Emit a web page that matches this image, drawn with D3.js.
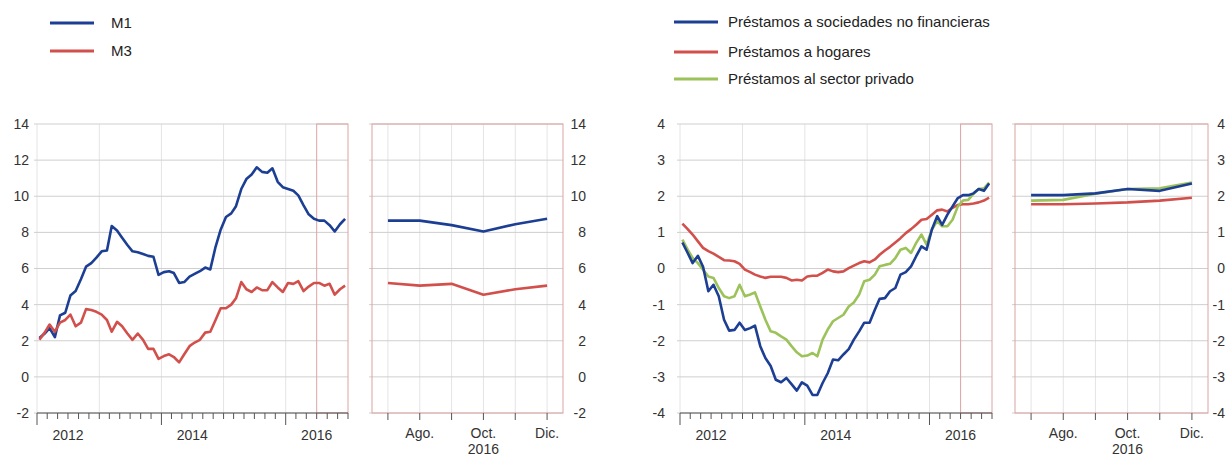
<!DOCTYPE html>
<html>
<head>
<meta charset="utf-8">
<script src="https://cdn.jsdelivr.net/npm/d3@7"></script>
<style>
  body { margin: 0; background: #fff; }
  svg { display: block; font-family: "Liberation Sans", Arial, sans-serif; }
</style>
</head>
<body>
<svg id="chart" width="1226" height="456"></svg>
<script>
// monthly data, Jan 2012 - Dec 2016
const m1 = [2.15, 2.4, 2.7, 2.2, 3.4, 3.55, 4.5, 4.75, 5.4, 6.1, 6.3, 6.6,
  6.95, 7.0, 8.35, 8.1, 7.7, 7.3, 6.95, 6.9, 6.8, 6.7, 6.65, 5.65,
  5.8, 5.85, 5.75, 5.2, 5.25, 5.55, 5.7, 5.85, 6.05, 5.95, 7.2, 8.15,
  8.85, 9.05, 9.45, 10.4, 10.95, 11.2, 11.6, 11.35, 11.3, 11.55, 10.8, 10.5,
  10.4, 10.3, 10.05, 9.5, 9.0, 8.75, 8.65, 8.65, 8.4, 8.05, 8.45, 8.75]
const m3 = [2.05, 2.45, 2.9, 2.5, 3.0, 3.15, 3.45, 2.8, 3.0, 3.75, 3.7, 3.6,
  3.45, 3.15, 2.5, 3.05, 2.8, 2.4, 2.05, 2.4, 2.05, 1.55, 1.55, 1.0,
  1.15, 1.25, 1.1, 0.8, 1.25, 1.7, 1.9, 2.05, 2.45, 2.5, 3.15, 3.8,
  3.8, 4.0, 4.35, 5.25, 4.85, 4.7, 4.95, 4.8, 4.8, 5.25, 4.95, 4.7,
  5.2, 5.15, 5.3, 4.75, 5.0, 5.2, 5.2, 5.05, 5.15, 4.55, 4.85, 5.05]

const sociedades = [0.72, 0.43, 0.15, 0.35, 0.05, -0.63, -0.45, -0.77, -1.42, -1.72, -1.7, -1.5,
  -1.7, -1.65, -1.58, -2.15, -2.48, -2.7, -3.08, -3.15, -3.03, -3.2, -3.38, -3.15,
  -3.24, -3.5, -3.5, -3.17, -2.9, -2.52, -2.54, -2.38, -2.23, -1.97, -1.74, -1.5,
  -1.5, -1.14, -0.84, -0.82, -0.63, -0.54, -0.17, -0.1, 0.06, 0.34, 0.61, 0.52,
  1.08, 1.45, 1.21, 1.49, 1.72, 1.95, 2.03, 2.03, 2.08, 2.2, 2.15, 2.35]
const hogares = [1.24, 1.09, 0.94, 0.75, 0.57, 0.48, 0.41, 0.32, 0.23, 0.22, 0.2, 0.13,
  -0.03, -0.1, -0.17, -0.22, -0.26, -0.23, -0.23, -0.23, -0.26, -0.33, -0.31, -0.33,
  -0.22, -0.2, -0.2, -0.12, -0.03, -0.08, -0.1, -0.08, 0.01, 0.08, 0.15, 0.2,
  0.17, 0.25, 0.38, 0.5, 0.6, 0.72, 0.84, 0.98, 1.09, 1.21, 1.35, 1.37,
  1.49, 1.61, 1.63, 1.58, 1.68, 1.76, 1.78, 1.78, 1.8, 1.83, 1.88, 1.96]
const privado = [0.8, 0.52, 0.29, 0.15, -0.03, -0.22, -0.26, -0.54, -0.77, -0.82, -0.77, -0.45,
  -0.77, -0.72, -0.66, -1.05, -1.42, -1.74, -1.78, -1.88, -1.97, -2.15, -2.32, -2.43,
  -2.41, -2.34, -2.43, -1.97, -1.69, -1.46, -1.37, -1.28, -1.05, -0.94, -0.72, -0.35,
  -0.31, -0.17, 0.06, 0.1, 0.13, 0.29, 0.52, 0.57, 0.43, 0.71, 0.94, 0.66,
  1.08, 1.31, 1.17, 1.17, 1.35, 1.72, 1.88, 1.9, 2.07, 2.2, 2.22, 2.38]

const months = d3.timeMonth.range(new Date(2012, 0, 1), new Date(2017, 0, 1))
const yearLabels = ["2012", "2014", "2016"]
const insetMonths = ["Jul.", "Ago.", "Sep.", "Oct.", "Nov.", "Dic."]
const insetLabels = ["", "Ago.", "", "Oct.", "", "Dic."]
const insetYear = "2016"

const leftSeries = [
  { name: "M1", values: m1, color: "#1c3f94" },
  { name: "M3", values: m3, color: "#d2504c" }
]
const rightSeries = [
  { name: "Préstamos a sociedades no financieras", values: sociedades, color: "#1c3f94" },
  { name: "Préstamos a hogares", values: hogares, color: "#d2504c" },
  { name: "Préstamos al sector privado", values: privado, color: "#9cc25a" }
]

const svg = d3.select("#chart")
const plotTop = 124, plotBottom = 413
const gridH = "#cfcfcf", gridV = "#e4e4e4", frameRed = "#dca4a4", axisCol = "#555"

drawPanel({
  series: leftSeries, yDomain: [-2, 14], yStep: 2,
  mainX: [37, 348], insetX: [372, 563], leftLabelX: 29, rightLabelX: 586,
  legendX: 50, textX: 61, legendY: [23, 51], drawOrder: [0, 1]
})
drawPanel({
  series: rightSeries, yDomain: [-4, 4], yStep: 1,
  mainX: [680, 992], insetX: [1015, 1208], leftLabelX: 665, rightLabelX: 1225,
  legendX: 674, textX: 54, legendY: [22, 52, 79], drawOrder: [1, 2, 0]
})

function drawPanel(cfg) {
  const g = svg.append("g")
  const y = d3.scaleLinear().domain(cfg.yDomain).range([plotBottom, plotTop])
  const yTicks = d3.range(cfg.yDomain[0], cfg.yDomain[1] + 0.001, cfg.yStep)

  const x = d3.scaleTime()
    .domain([new Date(2012, 0, 1), new Date(2017, 0, 1)])
    .range(cfg.mainX)
  const mid = d => d3.timeDay.offset(d, 14)

  // main panel grid
  g.append("g").selectAll("line")
    .data(d3.timeYear.range(new Date(2013, 0, 1), new Date(2017, 0, 1)))
    .enter().append("line")
    .attr("x1", d => x(d)).attr("x2", d => x(d))
    .attr("y1", plotTop).attr("y2", plotBottom)
    .attr("stroke", gridV)
  g.append("line")
    .attr("x1", cfg.mainX[0]).attr("x2", cfg.mainX[0])
    .attr("y1", plotTop).attr("y2", plotBottom).attr("stroke", gridV)
  g.append("g").selectAll("line")
    .data(yTicks)
    .enter().append("line")
    .attr("x1", cfg.mainX[0] - 3).attr("x2", cfg.mainX[1])
    .attr("y1", d => y(d)).attr("y2", d => y(d))
    .attr("stroke", gridH)

  // highlighted last six months
  const hx = x(new Date(2016, 6, 1))
  g.append("rect")
    .attr("x", hx).attr("y", plotTop)
    .attr("width", cfg.mainX[1] - hx).attr("height", plotBottom - plotTop)
    .attr("fill", "none").attr("stroke", frameRed)

  // left axis labels
  g.append("g").selectAll("text")
    .data(yTicks)
    .enter().append("text")
    .attr("x", cfg.leftLabelX).attr("y", d => y(d))
    .attr("dy", "0.35em").attr("text-anchor", "end")
    .style("font-size", "14px").attr("fill", "#333")
    .text(d => d)

  // bottom time axis
  g.append("line")
    .attr("x1", cfg.mainX[0]).attr("x2", cfg.mainX[1])
    .attr("y1", plotBottom).attr("y2", plotBottom).attr("stroke", axisCol)
  g.append("g").selectAll("line")
    .data(d3.timeMonth.every(2).range(new Date(2012, 0, 1), new Date(2017, 0, 2)))
    .enter().append("line")
    .attr("x1", d => x(d)).attr("x2", d => x(d))
    .attr("y1", plotBottom)
    .attr("y2", d => (d.getMonth() === 0 && d.getFullYear() % 2 === 0) ? plotBottom + 12 : plotBottom + 6)
    .attr("stroke", axisCol)
  g.append("g").selectAll("text")
    .data(yearLabels)
    .enter().append("text")
    .attr("x", d => x(new Date(+d, 6, 1)))
    .attr("y", 440).attr("text-anchor", "middle")
    .style("font-size", "14px").attr("fill", "#333")
    .text(d => d)

  // series lines
  const line = d3.line()
    .x((d, i) => x(mid(months[i])))
    .y(d => y(d))
  g.append("g").selectAll("path")
    .data(cfg.drawOrder.map(i => cfg.series[i]))
    .enter().append("path")
    .attr("d", d => line(d.values))
    .attr("fill", "none").attr("stroke", d => d.color)
    .attr("stroke-width", 2.6).attr("stroke-linejoin", "round")

  // inset panel: last six months
  const xi = d3.scalePoint().domain(insetMonths).range(cfg.insetX).padding(0.5)
  const ig = g.append("g")
  ig.append("g").selectAll("line")
    .data(insetMonths)
    .enter().append("line")
    .attr("x1", d => xi(d)).attr("x2", d => xi(d))
    .attr("y1", plotTop).attr("y2", plotBottom).attr("stroke", gridV)
  ig.append("g").selectAll("line")
    .data(yTicks)
    .enter().append("line")
    .attr("x1", cfg.insetX[0] - 3).attr("x2", cfg.insetX[1])
    .attr("y1", d => y(d)).attr("y2", d => y(d))
    .attr("stroke", gridH)
  ig.append("rect")
    .attr("x", cfg.insetX[0]).attr("y", plotTop)
    .attr("width", cfg.insetX[1] - cfg.insetX[0]).attr("height", plotBottom - plotTop)
    .attr("fill", "none").attr("stroke", frameRed)
  ig.append("g").selectAll("line")
    .data(insetMonths)
    .enter().append("line")
    .attr("x1", d => xi(d)).attr("x2", d => xi(d))
    .attr("y1", plotBottom).attr("y2", plotBottom + 7).attr("stroke", axisCol)
  ig.append("g").selectAll("text")
    .data(insetMonths)
    .enter().append("text")
    .attr("x", d => xi(d)).attr("y", 438)
    .attr("text-anchor", "middle")
    .style("font-size", "14px").attr("fill", "#333")
    .text((d, i) => insetLabels[i])
  ig.append("text")
    .attr("x", xi(insetMonths[3])).attr("y", 454)
    .attr("text-anchor", "middle")
    .style("font-size", "14px").attr("fill", "#333")
    .text(insetYear)
  ig.append("g").selectAll("text")
    .data(yTicks)
    .enter().append("text")
    .attr("x", cfg.rightLabelX).attr("y", d => y(d))
    .attr("dy", "0.35em").attr("text-anchor", "end")
    .style("font-size", "14px").attr("fill", "#333")
    .text(d => d)

  const iline = d3.line()
    .x((d, i) => xi(insetMonths[i]))
    .y(d => y(d))
  ig.append("g").selectAll("path")
    .data(cfg.drawOrder.map(i => cfg.series[i]))
    .enter().append("path")
    .attr("d", d => iline(d.values.slice(-6)))
    .attr("fill", "none").attr("stroke", d => d.color)
    .attr("stroke-width", 2.6).attr("stroke-linejoin", "round")

  // legend
  const lg = g.append("g").selectAll("g")
    .data(cfg.series)
    .enter().append("g")
    .attr("transform", (d, i) => `translate(${cfg.legendX},${cfg.legendY[i]})`)
  lg.append("line")
    .attr("x1", 0).attr("x2", 44)
    .attr("stroke", d => d.color).attr("stroke-width", 3)
  lg.append("text")
    .attr("x", cfg.textX).attr("dy", "0.35em")
    .style("font-size", "15px").attr("fill", "#222")
    .text(d => d.name)
}
</script>
</body>
</html>
